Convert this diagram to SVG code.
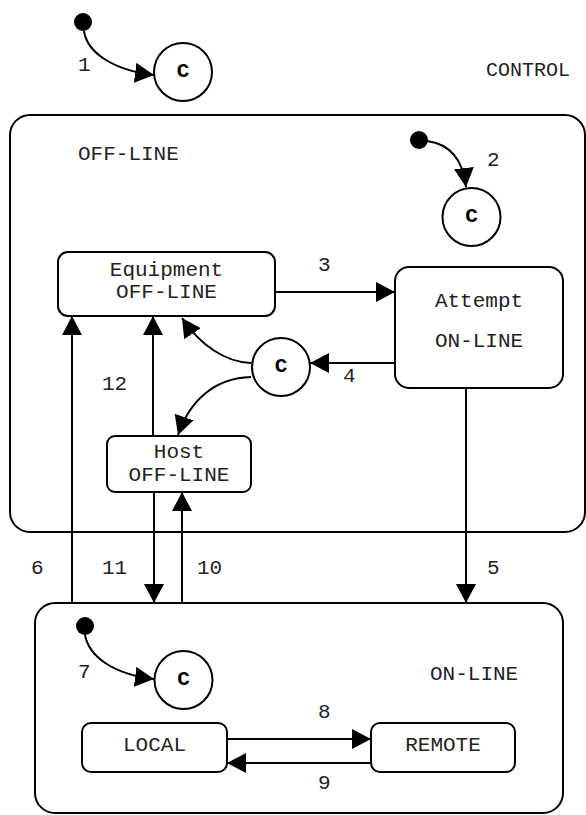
<svg xmlns="http://www.w3.org/2000/svg" width="586" height="815" viewBox="0 0 586 815">
<defs>
<style>
.box{fill:none;stroke:#000;stroke-width:2}
.st{fill:#fff;stroke:#000;stroke-width:2}
.ln{fill:none;stroke:#000;stroke-width:2;marker-end:url(#ah)}
.t{font-family:"Courier New","Nimbus Mono PS","Liberation Mono",monospace;font-size:21px;fill:#222}
.c{font-family:"Courier New","Nimbus Mono PS","Liberation Mono",monospace;font-size:21px;font-weight:bold;fill:#000;text-anchor:middle}
.m{text-anchor:middle}
.dot{fill:#000}
</style>
<marker id="ah" markerUnits="userSpaceOnUse" markerWidth="19" markerHeight="20" viewBox="0 0 19 20" refX="19" refY="10" orient="auto">
<path d="M0,0 L19,10 L0,20 z" fill="#000"/>
</marker>
</defs>

<g id="offline">
<rect class="box" x="10" y="115" width="575" height="417" rx="20" ry="20"/>
<text class="t" x="78" y="160">OFF-LINE</text>
</g>
<g id="online">
<rect class="box" x="35" y="603" width="528" height="210" rx="20" ry="20"/>
<text class="t" x="430" y="680">ON-LINE</text>
</g>
<text id="control" class="t" x="486" y="76" style="font-size:20px">CONTROL</text>

<g id="connectors">
<path class="ln" d="M84 31 C87 52, 112 70, 154 75"/>
<path class="ln" d="M427 141 C450 144, 463 160, 466 187"/>
<path class="ln" d="M275 292 L395 292"/>
<path class="ln" d="M395 363 L310 363"/>
<path class="ln" d="M251 363 C225 362, 200 345, 182 318"/>
<path class="ln" d="M251 377 C215 378, 190 400, 178 435"/>
<path class="ln" d="M466 388 L466 603"/>
<path class="ln" d="M72 603 L72 316"/>
<path class="ln" d="M85 635 C89 656, 112 674, 154 679"/>
<path class="ln" d="M227 739 L371 739"/>
<path class="ln" d="M371 763 L227 763"/>
<path class="ln" d="M182 603 L182 492"/>
<path class="ln" d="M154 492 L154 603"/>
<path class="ln" d="M153 436 L153 316"/>
</g>

<g id="labels">
<text class="t" x="78" y="71">1</text>
<text class="t" x="487" y="166">2</text>
<text class="t" x="318" y="271">3</text>
<text class="t" x="343" y="382">4</text>
<text class="t" x="487" y="574">5</text>
<text class="t" x="31" y="574">6</text>
<text class="t" x="78" y="678">7</text>
<text class="t" x="318" y="718">8</text>
<text class="t" x="318" y="789">9</text>
<text class="t" x="197" y="574">10</text>
<text class="t" x="102" y="574">11</text>
<text class="t" x="102" y="390">12</text>
</g>

<g id="init1"><circle class="dot" cx="83" cy="22" r="9"/></g>
<g id="c1"><circle class="st" cx="183" cy="72" r="29"/><text class="c" x="183" y="77">C</text></g>

<g id="init2"><circle class="dot" cx="419" cy="140" r="9"/></g>
<g id="c2"><circle class="st" cx="471.5" cy="217" r="29"/><text class="c" x="471.5" y="222">C</text></g>

<g id="equipment">
<rect class="st" x="58" y="252" width="217" height="64" rx="10" ry="10"/>
<text class="t m" x="166.5" y="276">Equipment</text>
<text class="t m" x="166.5" y="298">OFF-LINE</text>
</g>

<g id="attempt">
<rect class="st" x="395" y="267" width="168" height="121" rx="14" ry="14"/>
<text class="t m" x="479" y="307">Attempt</text>
<text class="t m" x="479" y="347">ON-LINE</text>
</g>

<g id="c3"><circle class="st" cx="281" cy="367" r="29"/><text class="c" x="281" y="372">C</text></g>

<g id="host">
<rect class="st" x="107" y="436" width="144" height="56" rx="8" ry="8"/>
<text class="t m" x="179" y="458">Host</text>
<text class="t m" x="179" y="481">OFF-LINE</text>
</g>

<g id="init3"><circle class="dot" cx="85" cy="626" r="9"/></g>
<g id="c4"><circle class="st" cx="183.5" cy="680" r="29"/><text class="c" x="183.5" y="685">C</text></g>

<g id="local">
<rect class="st" x="82" y="723" width="145" height="49" rx="9" ry="9"/>
<text class="t m" x="154.5" y="751">LOCAL</text>
</g>
<g id="remote">
<rect class="st" x="371" y="723" width="144" height="49" rx="9" ry="9"/>
<text class="t m" x="443" y="751">REMOTE</text>
</g>
</svg>
